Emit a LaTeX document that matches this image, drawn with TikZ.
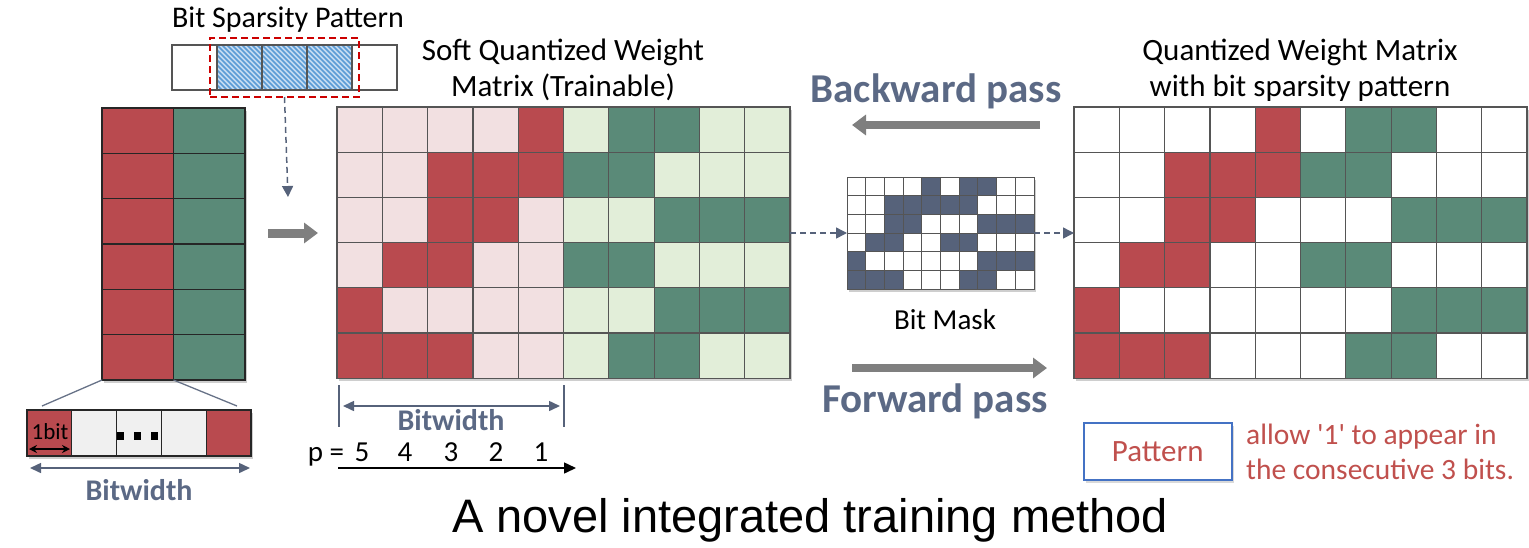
\documentclass[tikz,border=0pt]{standalone}
\usepackage{fontspec}
\setmainfont{Carlito}
\newfontfamily\arialfont{Liberation Sans}
\usetikzlibrary{arrows.meta,shadows}
\definecolor{wred}{HTML}{B94A4F}
\definecolor{wgreen}{HTML}{5A8A78}
\definecolor{lred}{HTML}{F2E0E1}
\definecolor{lgreen}{HTML}{E2EED9}
\definecolor{slate}{HTML}{56627A}
\definecolor{slatetxt}{HTML}{5B6985}
\definecolor{arrgray}{HTML}{7F7F7F}
\definecolor{gridgray}{HTML}{555555}
\definecolor{pblue}{HTML}{4472C4}
\definecolor{pred}{HTML}{C0504D}
\definecolor{hatchbg}{HTML}{C5DCF2}
\definecolor{hatchln}{HTML}{5B9BD5}
\definecolor{cellgray}{HTML}{F0F0F0}
\begin{document}
\begin{tikzpicture}[x=1pt,y=-1pt,
  cell/.style={draw=gridgray, line width=1.2pt},
  lbl/.style={font=\fontsize{31}{36}\selectfont, inner sep=0, align=center},
  pass/.style={font=\bfseries\fontsize{41}{44}\selectfont, text=slatetxt, inner sep=0},
  bwtext/.style={font=\bfseries\fontsize{30}{34}\selectfont, text=slatetxt, inner sep=0},
  numtext/.style={font=\fontsize{29}{32}\selectfont, inner sep=0, anchor=base},
  fatarrow/.style={draw=arrgray, line width=8pt, -{Triangle[length=14pt,width=20pt]}},
  dasharrow/.style={draw=slate, line width=1.5pt, dash pattern=on 6pt off 4pt, -{Triangle[length=11pt,width=11pt]}},
  dimarrow/.style={draw=slate, line width=1.5pt, {Triangle[length=11pt,width=10pt]}-{Triangle[length=11pt,width=10pt]}},
  shadowbox/.style={inner sep=0, outer sep=0, fill=white, drop shadow={shadow xshift=2pt, shadow yshift=-3pt, opacity=.35, fill=black!55}},
]
\useasboundingbox (0,0) rectangle (1529,547);

% ---------- bit sparsity pattern ----------
\node[lbl, font=\fontsize{30}{32}\selectfont] (bsptitle) at (288,20) {Bit Sparsity Pattern};
\node[inner sep=0, outer sep=0, minimum width=225pt, minimum height=45pt, anchor=north west] (bsp) at (172,45) {};
\foreach \c in {1,2,3}{
  \fill[hatchbg] (172+\c*45,45) rectangle ++(45,45);
  \begin{scope}
    \clip (172+\c*45,45) rectangle ++(45,45);
    \foreach \k in {-10,...,20}{
      \draw[hatchln, line width=1.6pt] (172+\c*45+\k*5-10,40) -- ++(60,60);
    }
  \end{scope}
}
\foreach \c in {0,...,4}{
  \draw[gridgray, line width=1.3pt] (172+\c*45,45) rectangle ++(45,45);
}
\node[draw=red!80!black, line width=1.8pt, dash pattern=on 7pt off 4pt, inner sep=0, outer sep=0,
      minimum width=149pt, minimum height=59pt, anchor=north west] (sel) at (210,38) {};
\coordinate (selend) at (288,197);
\draw[dasharrow] (sel.south) -- (selend);

% ---------- left matrix (two weights) ----------
\node[shadowbox, minimum width=143pt, minimum height=272pt, anchor=north west] (lm) at (102,108) {};
\foreach \r in {0,...,5}{
  \filldraw[fill=wred, draw=black!85, line width=1.3pt] (102,108+\r*45.33) rectangle ++(71.5,45.33);
  \filldraw[fill=wgreen, draw=black!85, line width=1.3pt] (173.5,108+\r*45.33) rectangle ++(71.5,45.33);
}

% ---------- bit expansion below ----------
\node[shadowbox, minimum width=224pt, minimum height=46pt, anchor=north west] (bitbox) at (27,410) {};
\foreach \c/\col in {0/wred,1/cellgray,2/cellgray,3/cellgray,4/wred}{
  \filldraw[fill=\col, draw=black!85, line width=1.3pt] (27+\c*44.8,410) rectangle ++(44.8,46);
}
\foreach \d in {117,134,151}{
  \fill[black] (\d,432) rectangle ++(7,8);
}
\node[inner sep=0, font=\fontsize{23}{26}\selectfont] (onebit) at (50,432) {1bit};
\coordinate (ob1) at (29,449);
\coordinate (ob2) at (70,449);
\draw[line width=1.4pt, {Stealth[length=8pt,width=8pt]}-{Stealth[length=8pt,width=8pt]}] (ob1) -- (ob2);
\coordinate (zl) at (42,406);
\coordinate (zr) at (237,406);
\draw[slate!90, line width=1.3pt] (lm.south west) -- (zl);
\draw[slate!90, line width=1.3pt] (173.5,380) -- (zr);
\coordinate (bwl1) at (30,468);
\coordinate (bwl2) at (250,468);
\draw[dimarrow] (bwl1) -- (bwl2);
\node[bwtext] (bwleft) at (139,490) {Bitwidth};

% ---------- arrow into trainable matrix ----------
\coordinate (fa1) at (268,233);
\coordinate (fa2) at (318,233);
\draw[fatarrow, line width=9pt] (fa1) -- (fa2);

% ---------- soft quantized weight matrix ----------
\node[lbl] (softtitle) at (563,70) {Soft Quantized Weight\\Matrix (Trainable)};
\node[shadowbox, minimum width=453pt, minimum height=271pt, anchor=north west] (soft) at (337,107) {};
\foreach \row [count=\r from 0] in {{0,0,0,0,1,0,1,1,0,0},{0,0,1,1,1,1,1,0,0,0},{0,0,1,1,0,0,0,1,1,1},{0,1,1,0,0,1,1,0,0,0},{1,0,0,0,0,0,0,1,1,1},{1,1,1,0,0,0,1,1,0,0}}{
  \foreach \b [count=\c from 0] in \row {
    \ifnum\c<5 \def\onc{wred}\def\offc{lred}\else\def\onc{wgreen}\def\offc{lgreen}\fi
    \ifnum\b=1 \edef\fc{\onc}\else\edef\fc{\offc}\fi
    \filldraw[cell, fill=\fc] (337+\c*45.3,107+\r*45.2) rectangle ++(45.3,45.2);
  }
}

% bitwidth and bit positions
\coordinate (tk1a) at (339,385); \coordinate (tk1b) at (339,427);
\coordinate (tk2a) at (564,385); \coordinate (tk2b) at (564,427);
\draw[slate, line width=1.3pt] (tk1a) -- (tk1b);
\draw[slate, line width=1.3pt] (tk2a) -- (tk2b);
\coordinate (bwm1) at (343,406);
\coordinate (bwm2) at (560,406);
\draw[dimarrow] (bwm1) -- (bwm2);
\node[bwtext] (bwmid) at (451,420) {Bitwidth};
\node[numtext] (peq) at (326,461) {p =};
\foreach \n/\x in {5/362,4/405,3/451,2/496,1/541}{
  \node[numtext] (pos\n) at (\x,461) {\n};
}
\coordinate (pa1) at (338,468);
\coordinate (pa2) at (576,468);
\draw[line width=1.5pt, -{Triangle[length=12pt,width=11pt]}] (pa1) -- (pa2);

% ---------- bit mask ----------
\node[shadowbox, minimum width=187pt, minimum height=112pt, anchor=north west] (mask) at (847,177) {};
\foreach \row [count=\r from 0] in {{0,0,0,0,1,0,1,1,0,0},{0,0,1,1,1,1,1,0,0,0},{0,0,1,1,0,0,0,1,1,1},{0,1,1,0,0,1,1,0,0,0},{1,0,0,0,0,0,0,1,1,1},{1,1,1,0,0,0,1,1,0,0}}{
  \foreach \b [count=\c from 0] in \row {
    \ifnum\b=1 \def\fc{slate}\else\def\fc{white}\fi
    \filldraw[draw=gridgray, line width=1pt, fill=\fc] (847+\c*18.7,177+\r*18.67) rectangle ++(18.7,18.67);
  }
}
\node[inner sep=0, font=\fontsize{29}{32}\selectfont] (masklbl) at (945,320) {Bit Mask};
\draw[dasharrow] (soft.east |- mask.west) -- (mask.west);

% ---------- quantized weight matrix ----------
\node[lbl] (qtitle) at (1300,70) {Quantized Weight Matrix\\with bit sparsity pattern};
\node[shadowbox, minimum width=453pt, minimum height=271pt, anchor=north west] (qm) at (1074,107) {};
\foreach \row [count=\r from 0] in {{0,0,0,0,1,0,1,1,0,0},{0,0,1,1,1,1,1,0,0,0},{0,0,1,1,0,0,0,1,1,1},{0,1,1,0,0,1,1,0,0,0},{1,0,0,0,0,0,0,1,1,1},{1,1,1,0,0,0,1,1,0,0}}{
  \foreach \b [count=\c from 0] in \row {
    \ifnum\c<5 \def\onc{wred}\else\def\onc{wgreen}\fi
    \ifnum\b=1 \edef\fc{\onc}\else\edef\fc{white}\fi
    \filldraw[cell, fill=\fc] (1074+\c*45.3,107+\r*45.2) rectangle ++(45.3,45.2);
  }
}
\draw[dasharrow] (mask.east) -- (qm.west |- mask.east);

% ---------- backward / forward passes ----------
\node[pass] (bwd) at (936,91) {Backward pass};
\coordinate (b1) at (1040,125);
\coordinate (b2) at (852,125);
\draw[fatarrow] (b1) -- (b2);
\coordinate (f1) at (852,368);
\coordinate (f2) at (1047,368);
\draw[fatarrow] (f1) -- (f2);
\node[pass] (fwd) at (935,401) {Forward pass};

% ---------- pattern legend ----------
\node[draw=pblue, line width=1.5pt, fill=white, minimum width=148pt, minimum height=57pt, inner sep=0,
      text=pred, font=\fontsize{31}{34}\selectfont, anchor=north west,
      drop shadow={shadow xshift=2pt, shadow yshift=-3pt, opacity=.3, fill=black!50}] (pat) at (1083,422) {Pattern};
\node[inner sep=0, text=pred, font=\fontsize{29.5}{35}\selectfont, align=left, anchor=west] (patdesc) at (1246,452)
  {allow \textquotesingle1\textquotesingle\ to appear in\\the consecutive 3 bits.};

% ---------- caption ----------
\node[inner sep=0, font=\arialfont\fontsize{47}{52}\selectfont] (caption) at (810,520) {A novel integrated training method};
\end{tikzpicture}
\end{document}
